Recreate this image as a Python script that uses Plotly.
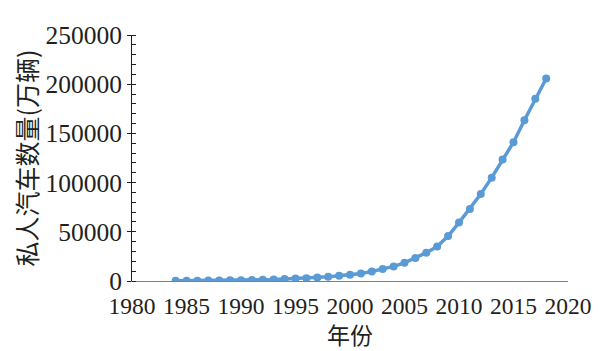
import plotly.graph_objects as go

years = list(range(1984, 2019))
cars = [200, 285, 347, 423, 604, 731, 816, 960, 1182, 1558,
        2054, 2500, 2897, 3584, 4237, 5339, 6253, 7708, 9690, 12192,
        14817, 18481, 23333, 28762, 35014, 45749, 59387, 73268, 88386, 105016,
        123393, 140991, 163303, 185151, 205749]

x_ticks = [1980, 1985, 1990, 1995, 2000, 2005, 2010, 2015, 2020]
y_ticks = [0, 50000, 100000, 150000, 200000, 250000]

fig = go.Figure()
fig.add_trace(go.Scatter(
    x=years, y=cars, mode="lines+markers",
    line=dict(color="#5B9BD5", width=3.5),
    marker=dict(color="#5B9BD5", size=8),
    showlegend=False,
))

serif = "Liberation Serif, Times New Roman, serif"
cjk = "Noto Sans CJK SC"

fig.update_layout(
    width=604, height=351,
    margin=dict(l=132, r=31, t=35, b=67),
    paper_bgcolor="white", plot_bgcolor="white",
    font=dict(family=serif, size=23, color="#231F20"),
)
fig.update_xaxes(
    range=[1980, 2020], tickvals=x_ticks, ticktext=[str(v) for v in x_ticks],
    showgrid=False, zeroline=False, showline=True, linecolor="#808080", linewidth=1,
    ticks="", ticklabelstandoff=4,
    tickfont=dict(family=serif, size=23.5, color="#231F20"),
    title=dict(text="年份", font=dict(family=cjk, size=23, color="#231F20"), standoff=4),
)
fig.update_yaxes(
    range=[0, 250000], tickvals=y_ticks, ticktext=[str(v) for v in y_ticks],
    showgrid=False, zeroline=False, showline=True, linecolor="#231F20", linewidth=1,
    ticks="outside", ticklen=4, tickcolor="#231F20",
    minor=dict(ticks="inside", ticklen=4, dtick=10000, tickcolor="#231F20", showgrid=False),
    tickfont=dict(family=serif, size=25.5, color="#231F20"),
    title=dict(text="私人汽车数量(万辆)", font=dict(family=cjk, size=25, color="#231F20"), standoff=0),
)

fig.write_html("out.html")
